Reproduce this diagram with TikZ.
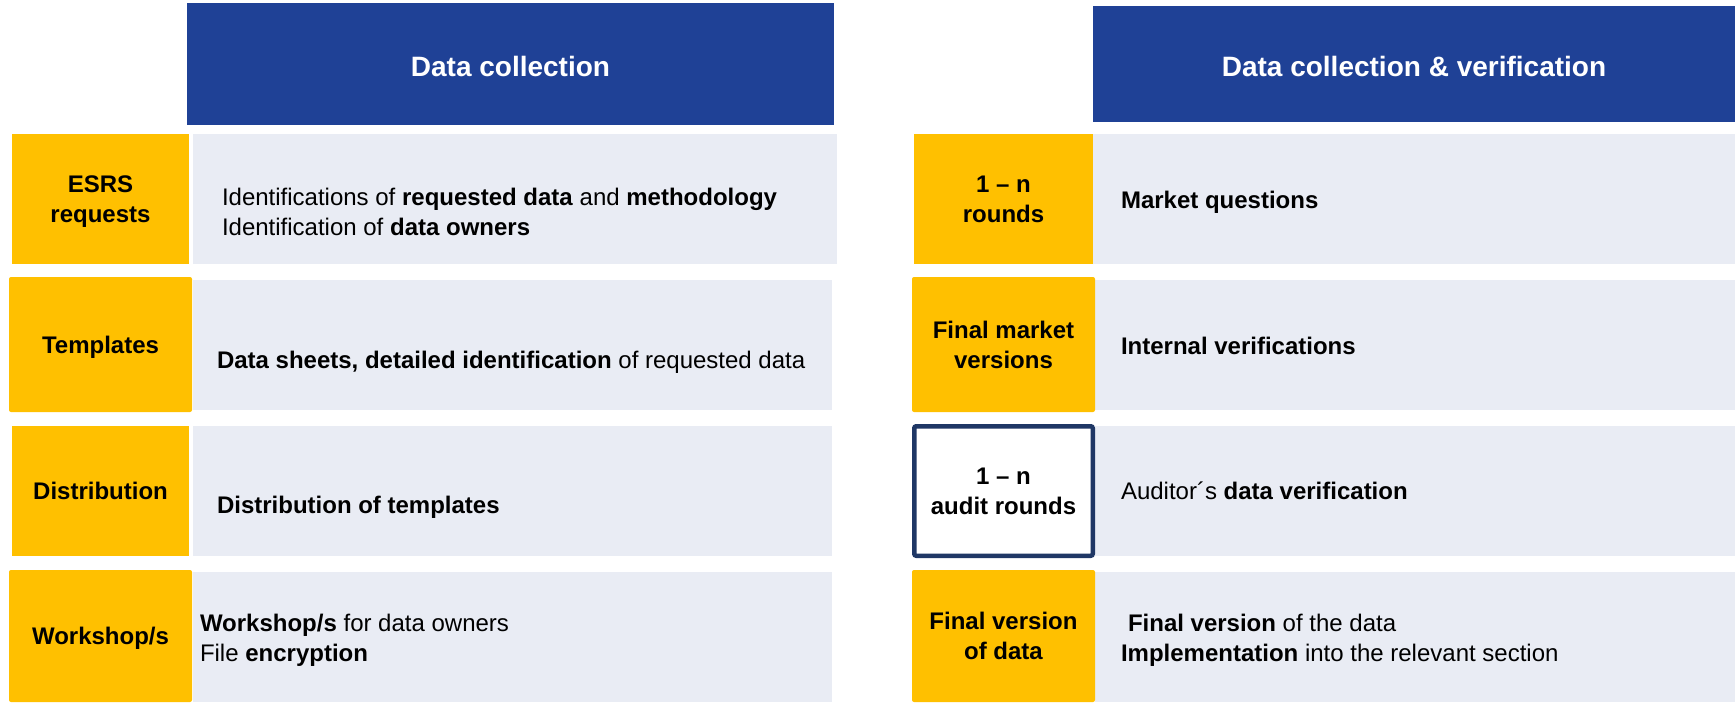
\documentclass[tikz,border=0pt]{standalone}
\usepackage{fontspec}
\setmainfont{Liberation Sans}
\usepackage{tikz}

\definecolor{hdblue}{RGB}{31,65,150}
\definecolor{tagyellow}{RGB}{255,192,0}
\definecolor{bandgray}{RGB}{233,236,244}
\definecolor{rimnavy}{RGB}{31,55,101}

\begin{document}
\begin{tikzpicture}[x=1pt, y=-1pt,
    every node/.style={outer sep=0pt},
    head/.style={fill=hdblue, text=white, anchor=north west, inner sep=0pt,
        text height=25pt, text depth=0pt,
        font=\bfseries\fontsize{28}{34}\selectfont},
    tag/.style={fill=tagyellow, anchor=north west, inner sep=0pt, align=center,
        text depth=0pt, font=\bfseries\fontsize{24}{30}\selectfont},
    band/.style={fill=bandgray, anchor=north west, inner sep=0pt},
    txt/.style={anchor=west, inner sep=0pt, align=left,
        font=\fontsize{24}{30}\selectfont}]
    \useasboundingbox (0,0) rectangle (1735,702);

    % left column
    \node[head, minimum width=647, minimum height=122] (hl) at (187,3) {Data collection};

    \node[band, minimum width=644, minimum height=130] (bl1) at (193,134) {};
    \node[band, minimum width=639, minimum height=130] (bl2) at (193,280) {};
    \node[band, minimum width=639, minimum height=130] (bl3) at (193,426) {};
    \node[band, minimum width=639, minimum height=130] (bl4) at (193,572) {};

    \node[tag, minimum width=177, minimum height=130] (tl1) at (12,134) {ESRS\\requests};
    \node[tag, rounded corners=2pt, minimum width=183, minimum height=135] (tl2) at (9,277) {Templates};
    \node[tag, minimum width=177, minimum height=130] (tl3) at (12,426) {Distribution};
    \node[tag, rounded corners=2pt, minimum width=183, minimum height=132] (tl4) at (9,570) {Workshop/s};

    \node[txt] (xl1) at (222,212) {Identifications of \textbf{requested data} and \textbf{methodology}\\
        Identification of \textbf{data owners}};
    \node[txt] (xl2) at (217,362) {\textbf{Data sheets, detailed identification} of requested data};
    \node[txt] (xl3) at (217,507) {\textbf{Distribution of templates}};
    \node[txt] (xl4) at (200,640) {\textbf{Workshop/s} for data owners\\
        File \textbf{encryption}};

    % right column
    \node[head, minimum width=642, minimum height=116] (hr) at (1093,6) {Data collection \& verification};

    \node[band, minimum width=642, minimum height=130] (br1) at (1093,134) {};
    \node[band, minimum width=640, minimum height=130] (br2) at (1095,280) {};
    \node[band, minimum width=640, minimum height=130] (br3) at (1095,426) {};
    \node[band, minimum width=640, minimum height=130] (br4) at (1095,572) {};

    \node[tag, minimum width=179, minimum height=130] (tr1) at (914,134) {1 – n\\rounds};
    \node[tag, rounded corners=2pt, minimum width=183, minimum height=135] (tr2) at (912,277) {Final market\\versions};
    \node[tag, fill=white, draw=rimnavy, line width=4.5pt, rounded corners=2pt,
        minimum width=178.5, minimum height=129.5] (tr3) at (914.25,426.25) {1 – n\\audit rounds};
    \node[tag, rounded corners=2pt, minimum width=183, minimum height=132] (tr4) at (912,570) {Final version\\of data};

    \node[txt] (xr1) at (1121,202) {\textbf{Market questions}};
    \node[txt] (xr2) at (1121,346) {\textbf{Internal verifications}};
    \node[txt] (xr3) at (1121,491) {Auditor´s \textbf{data verification}};
    \node[txt] (xr4) at (1121,640) {\hspace*{7pt}\textbf{Final version} of the data\\
        \textbf{Implementation} into the relevant section};
\end{tikzpicture}
\end{document}
